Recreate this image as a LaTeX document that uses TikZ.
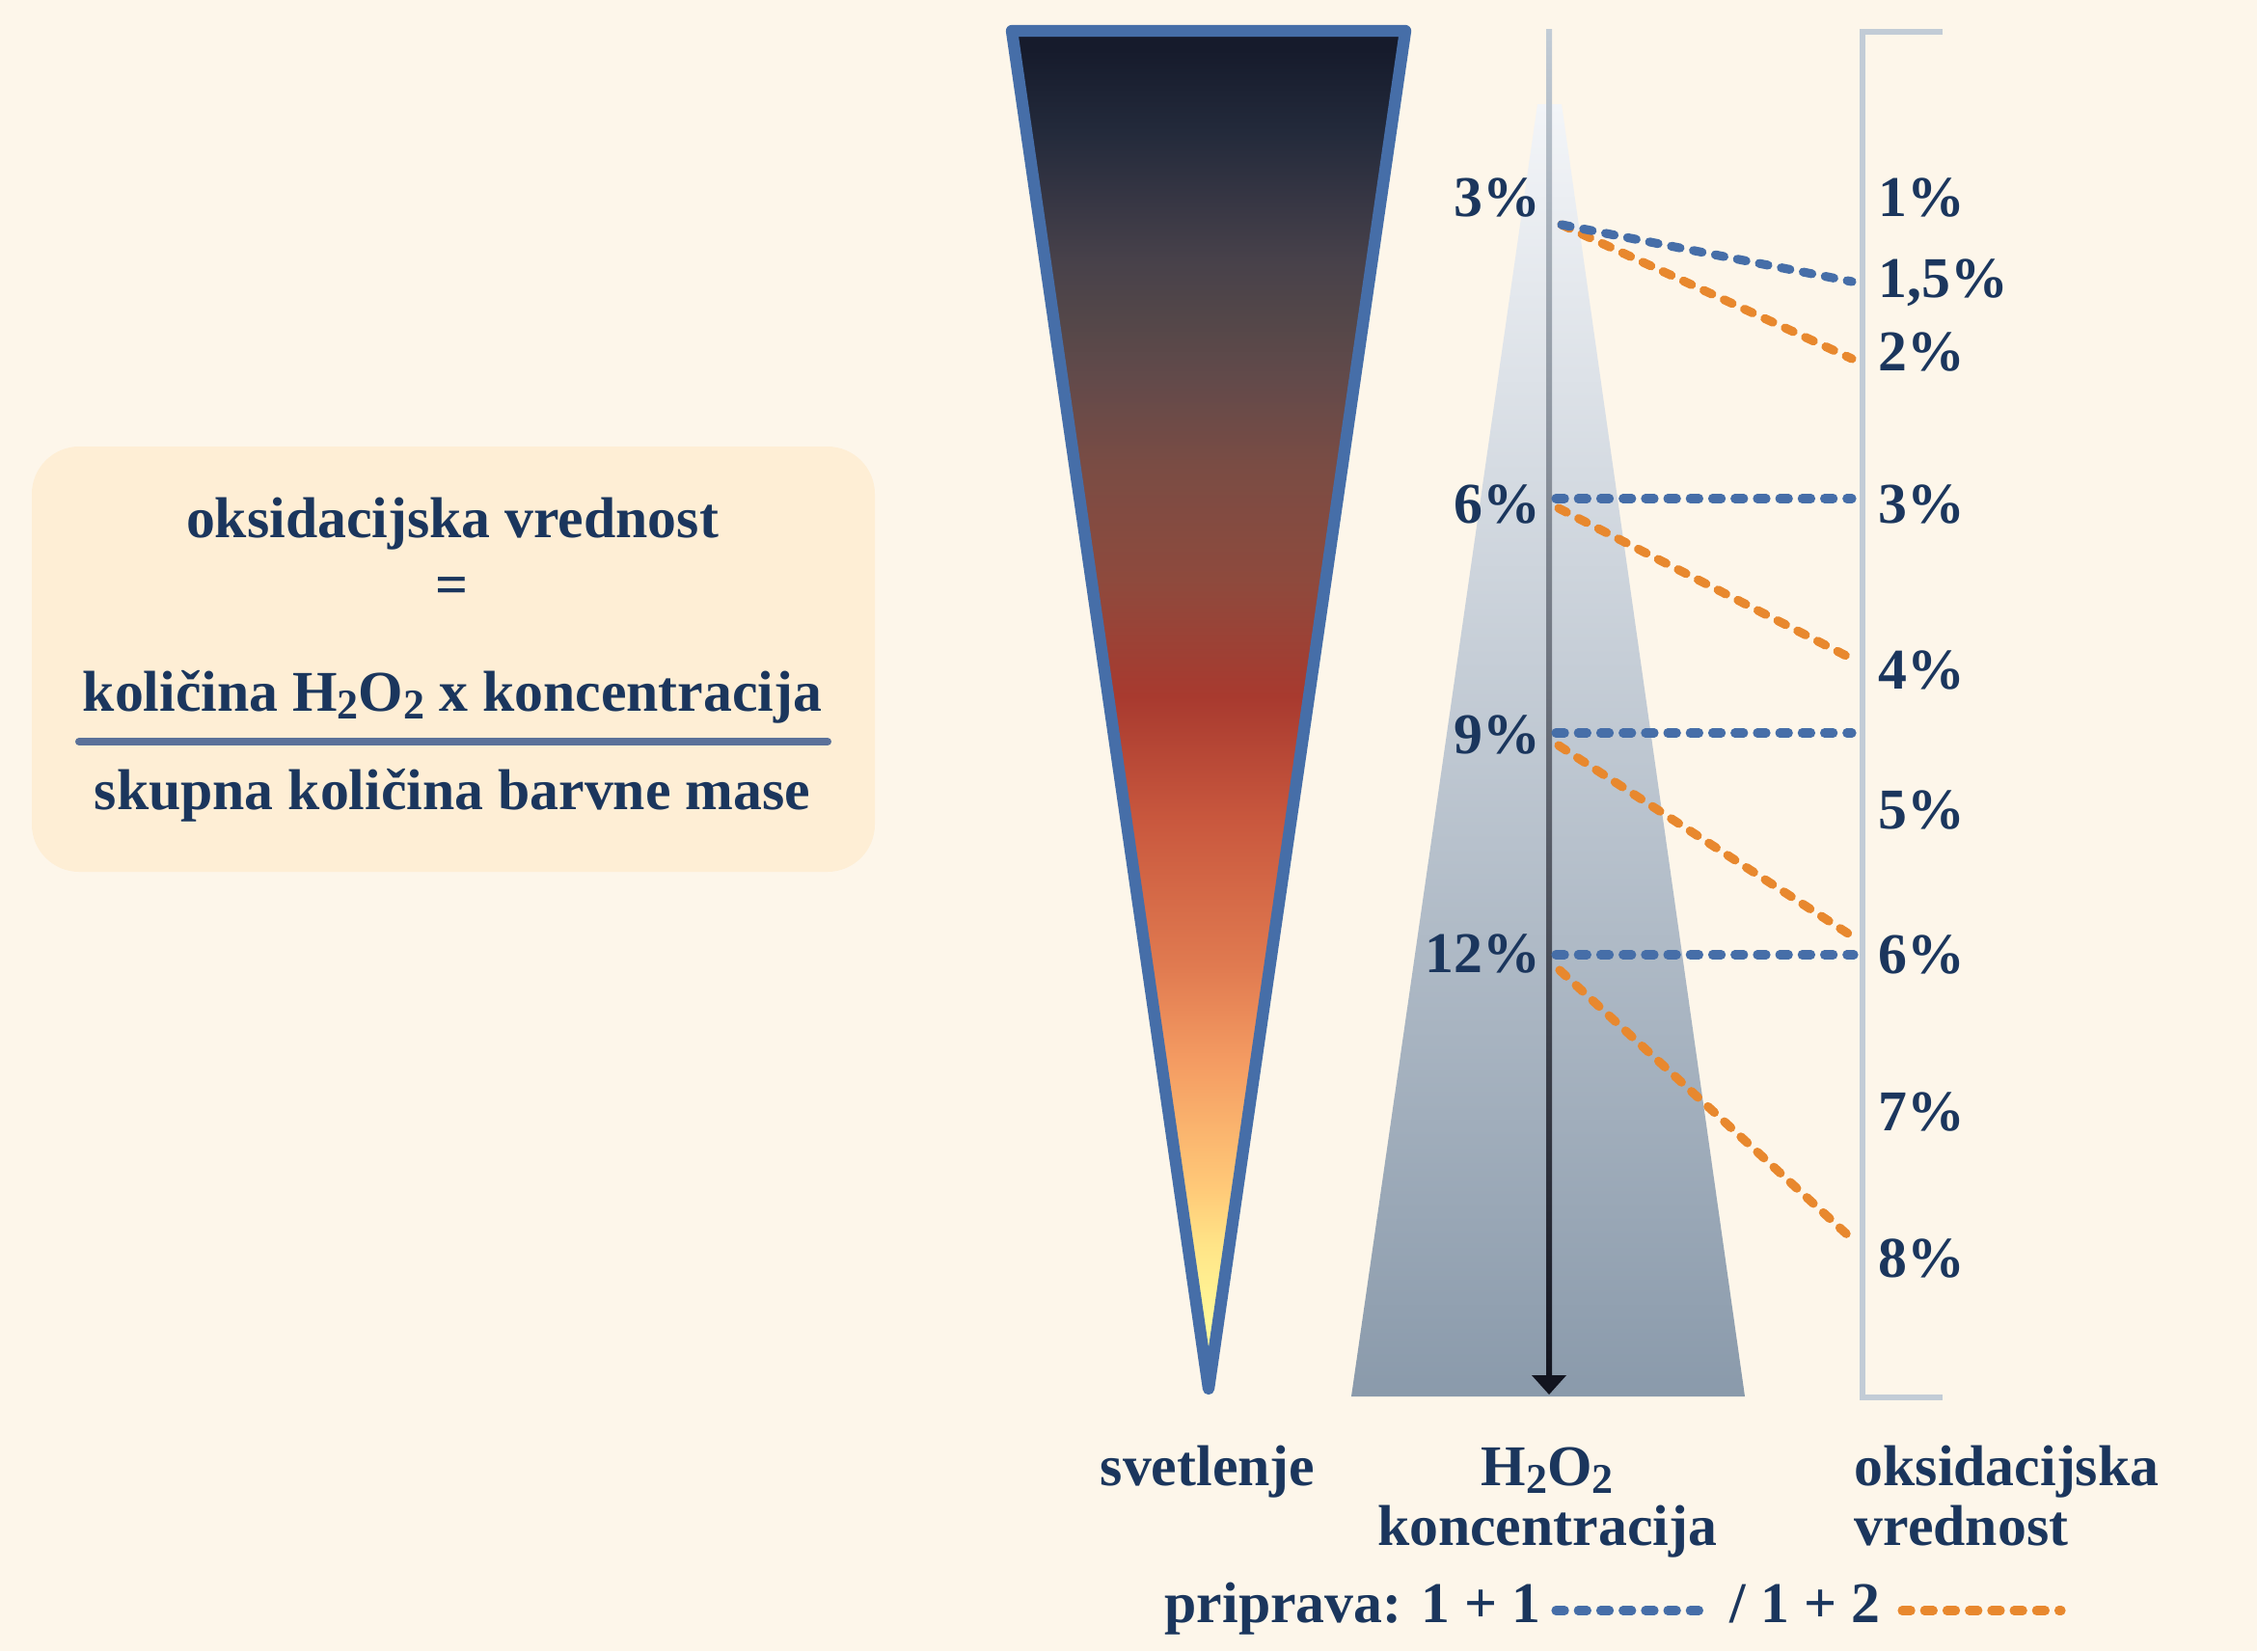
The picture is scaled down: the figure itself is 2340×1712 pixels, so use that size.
\documentclass[tikz,border=0pt]{standalone}
\usepackage{fontspec}
\setmainfont{Liberation Serif}
\usetikzlibrary{calc}

\definecolor{bgcream}{HTML}{FDF6EA}
\definecolor{boxpeach}{HTML}{FEEED5}
\definecolor{inkblue}{HTML}{1B365D}
\definecolor{rimblue}{HTML}{466EA8}
\definecolor{mixorange}{HTML}{E8882E}
\definecolor{fracline}{HTML}{5B7199}
\definecolor{brackgray}{HTML}{C2CCD6}
\definecolor{axisdark}{HTML}{12141F}
\definecolor{axismid}{HTML}{5F6B7C}
\definecolor{htop}{HTML}{F3F5F8}
\definecolor{hmid}{HTML}{C3CBD5}
\definecolor{hbot}{HTML}{8A9AAB}
\definecolor{sv1}{HTML}{161B2C}
\definecolor{sv2}{HTML}{232A3B}
\definecolor{sv3}{HTML}{353543}
\definecolor{sv4}{HTML}{47414A}
\definecolor{sv5}{HTML}{544749}
\definecolor{sv6}{HTML}{634A4A}
\definecolor{sv7}{HTML}{7A4C44}
\definecolor{sv8}{HTML}{8E4A3D}
\definecolor{sv9}{HTML}{A83A2F}
\definecolor{sv10}{HTML}{C9583E}
\definecolor{sv11}{HTML}{E07A50}
\definecolor{sv12}{HTML}{F49B62}
\definecolor{sv13}{HTML}{FFC978}
\definecolor{sv14}{HTML}{FFE487}
\definecolor{sv15}{HTML}{FFF99A}

\pgfdeclareverticalshading{svetlenjeshade}{100bp}{color(0bp)=(sv15); color(25bp)=(sv15);
  color(27.5bp)=(sv15); color(30.3bp)=(sv14); color(32.4bp)=(sv13); color(37.1bp)=(sv12);
  color(40.6bp)=(sv11); color(45.9bp)=(sv10); color(50.5bp)=(sv9); color(54.8bp)=(sv8);
  color(59bp)=(sv7); color(62.1bp)=(sv6); color(64.3bp)=(sv5); color(66.6bp)=(sv4);
  color(69bp)=(sv3); color(71.3bp)=(sv2); color(74.3bp)=(sv1); color(100bp)=(sv1)}

\newcommand{\diagfont}{\fontsize{17}{20}\selectfont\bfseries}
\newcommand{\sub}[1]{\raisebox{-0.3ex}{\fontsize{12.5}{12.5}\selectfont #1}}

\begin{document}
\begin{tikzpicture}[x=0.01cm, y=-0.01cm,
    txt/.style={text=inkblue, font=\diagfont, inner sep=0pt},
    pctl/.style={txt, anchor=base east},
    pctr/.style={txt, anchor=base west},
    dots/.style={line width=2.6pt, line cap=round, dash pattern=on 2.6pt off 4pt},
    bdots/.style={dots, draw=rimblue},
    odots/.style={dots, draw=mixorange}]

    \fill[bgcream] (0,0) rectangle (2340,1712);
    \useasboundingbox (0,0) rectangle (2340,1712);

    % formula box
    \fill[boxpeach, rounded corners=14pt] (33,463) rectangle (907,904);
    \node[txt, anchor=base] (fname) at (469,557) {oksidacijska vrednost};
    \node[txt, anchor=base] (feq) at (469,626) {=};
    \node[txt, anchor=base] (fnum) at (469,737) {količina H\sub{2}O\sub{2} x koncentracija};
    \node[txt, anchor=base] (fden) at (469,839) {skupna količina barvne mase};
    \coordinate (fl) at (82,769);
    \coordinate (fr) at (858,769);
    \draw[fracline, line width=2.3pt, line cap=round] (fl) -- (fr);

    % svetlenje
    \path[shading=svetlenjeshade] (1049,32) -- (1457,32) -- (1253,1440) -- cycle;
    \draw[rimblue, line width=3.5pt, line join=round] (1049,32) -- (1457,32) -- (1253,1440) -- cycle;

    % H2O2 koncentracija
    \shade[top color=htop, middle color=hmid, bottom color=hbot]
      (1594,108) -- (1619,108) -- (1809,1448) -- (1401,1448) -- cycle;
    \coordinate (atop) at (1606,30);
    \coordinate (atip) at (1606,1446);
    \shade[top color=brackgray, middle color=axismid, bottom color=axisdark]
      ($(atop)+(-3,0)$) rectangle ($(atip)+(3,-19)$);
    \fill[axisdark] ($(atip)+(-18,-20)$) -- ($(atip)+(18,-20)$) -- (atip) -- cycle;

    % oksidacijska vrednost
    \draw[brackgray, line width=1.7pt] (2014,33) -- (1931,33) -- (1931,1449) -- (2014,1449);

    \node[pctl] (h3) at (1598,224) {3\%};
    \node[pctl] (h6) at (1598,542) {6\%};
    \node[pctl] (h9) at (1598,781) {9\%};
    \node[pctl] (h12) at (1598,1008) {12\%};

    \node[pctr] (o1) at (1947,224) {1\%};
    \node[pctr] (o15) at (1947,308) {1,5\%};
    \node[pctr] (o2) at (1947,384) {2\%};
    \node[pctr] (o3) at (1947,542) {3\%};
    \node[pctr] (o4) at (1947,714) {4\%};
    \node[pctr] (o5) at (1947,859) {5\%};
    \node[pctr] (o6) at (1947,1009) {6\%};
    \node[pctr] (o7) at (1947,1172) {7\%};
    \node[pctr] (o8) at (1947,1324) {8\%};

    \coordinate (s3) at (1619,233);
    \coordinate (s6b) at (1613,517);
    \coordinate (s6o) at (1616,527);
    \coordinate (s9b) at (1613,760);
    \coordinate (s9o) at (1616,773);
    \coordinate (s12b) at (1613,990);
    \coordinate (s12o) at (1617,1006);
    \coordinate (e15) at (1920,292);
    \coordinate (e2) at (1920,372);
    \coordinate (e3) at (1920,517);
    \coordinate (e4) at (1918,682);
    \coordinate (e6b) at (1922,990);
    \coordinate (e6o) at (1916,968);
    \coordinate (e8) at (1916,1281);

    \draw[odots] (s3) -- (e2);
    \draw[bdots] (s3) -- (e15);
    \draw[bdots] (s6b) -- (e3);
    \draw[odots] (s6o) -- (e4);
    \draw[bdots] (s9b) -- (e3 |- s9b);
    \draw[odots] (s9o) -- (e6o);
    \draw[bdots] (s12b) -- (e6b);
    \draw[odots] (s12o) -- (e8);

    % labels below
    \node[txt, anchor=base] (svet) at (1252,1540) {svetlenje};
    \node[txt, anchor=base] (hkon) at (1604,1540) {H\sub{2}O\sub{2}};
    \node[txt, anchor=base] (hkon2) at (1604,1602) {koncentracija};
    \node[txt, anchor=base west] (oksv) at (1922,1540) {oksidacijska};
    \node[txt, anchor=base west] (oksv2) at (1922,1602) {vrednost};

    % legend
    \node[txt, anchor=base west] (prip) at (1207,1682) {priprava: 1 + 1};
    \node[txt, anchor=base west] (prip2) at (1793,1682) {/ 1 + 2};
    \coordinate (lb1) at (1613,1670);
    \coordinate (lb2) at (1770,1670);
    \coordinate (lo1) at (1972,1670);
    \coordinate (lo2) at (2137,1670);
    \draw[bdots] (lb1) -- (lb2);
    \draw[odots] (lo1) -- (lo2);
\end{tikzpicture}
\end{document}
